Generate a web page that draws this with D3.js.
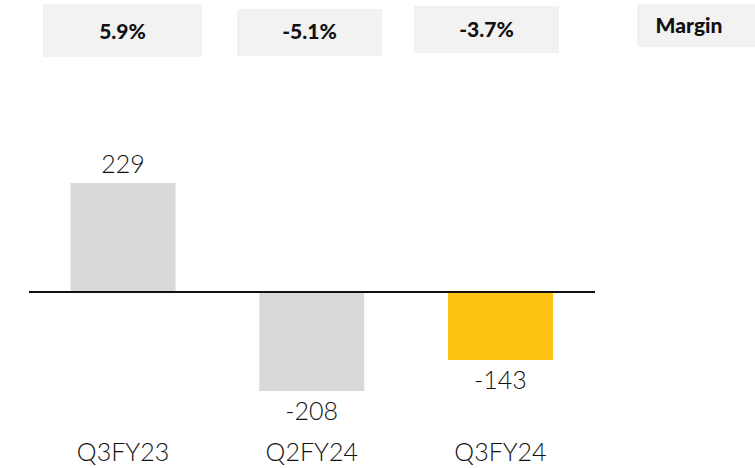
<!DOCTYPE html>
<html>
<head>
<meta charset="utf-8">
<script src="https://cdn.jsdelivr.net/npm/d3@7"></script>
<style>
  html, body { margin: 0; padding: 0; background: #ffffff; }
  svg { display: block; }
</style>
</head>
<body>
<svg id="chart" width="755" height="468"></svg>
<script>
// ---- data ----
const categories = ["Q3FY23", "Q2FY24", "Q3FY24"];
const values = [229, -208, -143];
const margins = ["5.9%", "-5.1%", "-3.7%"];
const marginLabel = "Margin";
const highlight = [false, false, true];

// ---- layout ----
const svg = d3.select("#chart");
const axisX0 = 29, axisX1 = 595;

const x = d3.scaleBand()
  .domain(categories)
  .range([70.5, 553])
  .paddingInner(0.4437)
  .paddingOuter(0);

const y = d3.scaleLinear().domain([-208, 229]).range([391, 183]);

const textFont = "Lato, 'Open Sans', sans-serif";
const boxFont = "Lato, 'Open Sans', sans-serif";

// margin boxes (layout per index)
const boxes = [
  { x: 43, y: 4, w: 159, h: 53, ty: 39 },
  { x: 237, y: 9, w: 145, h: 47, ty: 39 },
  { x: 414, y: 6, w: 145, h: 47, ty: 37 }
];
const gBoxes = svg.append("g");
margins.forEach((m, i) => {
  const b = boxes[i];
  gBoxes.append("rect").attr("x", b.x).attr("y", b.y).attr("width", b.w).attr("height", b.h)
    .attr("fill", "#f2f2f2");
  gBoxes.append("text").attr("x", b.x + b.w / 2).attr("y", b.ty)
    .attr("text-anchor", "middle")
    .attr("font-family", boxFont)
    .attr("font-weight", 900)
    .attr("font-size", 21)
    .attr("fill", "#111")
    .text(m);
});
gBoxes.append("rect").attr("x", 637).attr("y", 4).attr("width", 118).attr("height", 43).attr("fill", "#f2f2f2");
gBoxes.append("text").attr("x", 689).attr("y", 33)
  .attr("text-anchor", "middle")
  .attr("font-family", boxFont)
  .attr("font-weight", 900)
  .attr("font-size", 21)
  .attr("fill", "#111")
  .text(marginLabel);

// bars
const data = categories.map((c, i) => ({ c, v: values[i], h: highlight[i] }));
svg.append("g").selectAll("rect").data(data).join("rect")
  .attr("x", d => x(d.c))
  .attr("width", x.bandwidth())
  .attr("y", d => y(Math.max(0, d.v)))
  .attr("height", d => Math.abs(y(d.v) - y(0)))
  .attr("fill", d => d.h ? "#fdc313" : "#d9d9d9");

// zero axis line
svg.append("line")
  .attr("x1", axisX0).attr("x2", axisX1)
  .attr("y1", y(0)).attr("y2", y(0))
  .attr("stroke", "#111").attr("stroke-width", 2);

// value labels
svg.append("g").selectAll("text").data(data).join("text")
  .attr("x", d => x(d.c) + x.bandwidth() / 2)
  .attr("y", d => d.v >= 0 ? y(d.v) - 10 : y(d.v) + 29)
  .attr("text-anchor", "middle")
  .attr("font-family", textFont)
  .attr("font-weight", 300)
  .attr("font-size", 25)
  .attr("fill", "#111")
  .text(d => d.v);

// category labels
svg.append("g").selectAll("text").data(data).join("text")
  .attr("x", d => x(d.c) + x.bandwidth() / 2)
  .attr("y", 461)
  .attr("text-anchor", "middle")
  .attr("font-family", textFont)
  .attr("font-weight", 300)
  .attr("font-size", 25)
  .attr("fill", "#111")
  .text(d => d.c);
</script>
</body>
</html>
